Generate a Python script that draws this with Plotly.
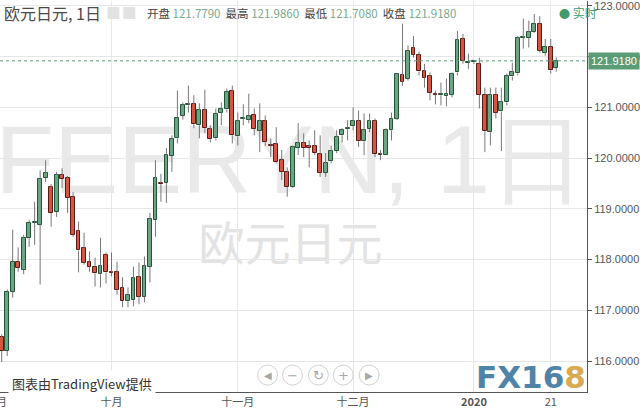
import plotly.graph_objects as go
import pandas as pd

# ---------------- data (EUR/JPY daily) ----------------
dates = [d.strftime("%Y-%m-%d") for d in pd.bdate_range("2019-09-03", "2020-01-22")]

opens = [116.47, 116.20, 117.37, 117.96, 117.80, 118.43, 118.73, 118.69, 119.61, 119.43,
         118.94, 119.67, 119.61, 119.24, 118.57, 118.22, 117.96, 117.86, 117.71, 118.10,
         117.75, 117.75, 117.45, 117.18, 117.20, 117.65, 117.27, 117.86, 118.78, 119.51,
         119.51, 120.04, 120.39, 120.84, 121.04, 121.06, 120.65, 120.94, 120.57, 120.39,
         120.90, 120.96, 121.33, 120.43, 120.78, 120.76, 120.86, 120.53, 120.73, 120.25,
         120.27, 119.96, 119.73, 119.43, 120.20, 120.29, 120.22, 120.24, 120.08, 119.71,
         119.94, 120.14, 120.45, 120.57, 120.63, 120.73, 120.33, 120.57, 120.73, 120.08,
         120.06, 120.55, 120.78, 121.63, 121.57, 122.18, 122.04, 121.71, 121.61, 121.27,
         121.24, 121.22, 121.25, 121.69, 122.35, 121.88, 121.90, 121.86, 121.25, 120.51,
         121.25, 120.92, 121.10, 121.61, 121.67, 122.37, 122.37, 122.49, 122.65, 122.08,
         122.20, 121.779]
highs = [116.53, 117.41, 118.59, 118.24, 118.49, 118.78, 119.14, 119.76, 119.96, 119.49,
         119.73, 119.80, 119.65, 119.33, 118.75, 118.53, 118.16, 118.04, 118.43, 118.14,
         118.14, 117.96, 117.65, 117.45, 117.86, 117.94, 118.06, 118.92, 119.96, 119.69,
         120.20, 120.45, 121.33, 121.10, 121.43, 121.24, 121.08, 121.35, 120.65, 120.98,
         121.10, 121.37, 121.43, 120.90, 121.06, 121.27, 120.98, 121.08, 120.84, 120.39,
         120.61, 120.16, 119.82, 120.25, 120.69, 120.49, 120.35, 120.55, 120.45, 120.10,
         120.25, 120.55, 120.59, 120.75, 121.00, 120.94, 120.88, 120.88, 120.78, 120.16,
         120.59, 120.90, 121.67, 122.65, 122.22, 122.41, 122.10, 121.86, 121.69, 121.33,
         121.49, 121.57, 121.69, 122.51, 122.45, 122.06, 121.94, 121.98, 121.39, 121.39,
         121.39, 121.39, 121.67, 121.88, 122.41, 122.75, 122.71, 122.84, 122.80, 122.35,
         122.35, 121.986]
lows = [115.98, 116.10, 117.25, 117.76, 117.71, 118.25, 118.29, 117.51, 119.53, 118.65,
        118.84, 119.41, 118.92, 118.45, 117.75, 117.90, 117.76, 117.47, 117.45, 117.53,
        117.67, 117.31, 117.06, 117.06, 117.08, 117.12, 117.16, 117.55, 118.45, 119.14,
        119.12, 119.73, 120.29, 120.76, 120.90, 120.59, 120.39, 120.49, 120.31, 120.35,
        120.65, 120.90, 120.29, 120.25, 120.65, 120.69, 120.45, 120.12, 120.24, 120.02,
        119.90, 119.57, 119.24, 119.41, 120.06, 120.02, 119.82, 120.06, 119.63, 119.63,
        119.90, 120.10, 120.31, 120.35, 120.55, 120.22, 120.06, 120.51, 120.02, 119.96,
        120.06, 120.35, 120.75, 121.43, 121.53, 121.98, 121.63, 121.39, 121.14, 121.06,
        121.04, 121.02, 121.20, 121.63, 121.86, 121.76, 121.86, 120.98, 120.12, 120.25,
        120.78, 120.14, 121.04, 121.53, 121.63, 122.16, 122.18, 122.47, 122.08, 122.02,
        121.67, 121.708]
closes = [116.20, 117.37, 117.96, 117.84, 118.43, 118.73, 118.75, 119.59, 119.71, 118.92,
          119.67, 119.59, 119.22, 118.49, 118.18, 117.94, 117.86, 117.73, 117.88, 117.75,
          117.74, 117.41, 117.18, 117.31, 117.63, 117.27, 117.88, 118.80, 119.61, 119.49,
          120.06, 120.37, 120.80, 121.04, 121.06, 120.67, 120.94, 120.59, 120.37, 120.88,
          120.96, 121.31, 120.45, 120.73, 120.79, 120.84, 120.57, 120.73, 120.31, 120.24,
          119.92, 119.73, 119.43, 120.22, 120.29, 120.20, 120.21, 120.10, 119.71, 119.90,
          120.14, 120.41, 120.55, 120.59, 120.73, 120.33, 120.55, 120.73, 120.08, 120.06,
          120.55, 120.78, 121.65, 121.51, 122.12, 122.04, 121.71, 121.59, 121.29, 121.25,
          121.27, 121.27, 121.65, 122.33, 121.92, 121.90, 121.91, 121.25, 120.53, 121.25,
          120.90, 121.10, 121.61, 121.69, 122.37, 122.38, 122.49, 122.65, 122.12, 122.20,
          121.73, 121.918]

tick_dates = ["2019-10-01", "2019-11-01", "2019-12-02", "2020-01-01", "2020-01-21"]
tick_labels = ["十月", "十一月", "十二月", "<b>2020</b>", "21"]
price_ticks = [116, 117, 118, 119, 120, 121, 122, 123]

title_text = "欧元日元, 1日"
ohlc_labels = ["开盘", "最高", "最低", "收盘"]
ohlc_values = ["121.7790", "121.9860", "121.7080", "121.9180"]
last_price = 121.918
watermark = "FEERYN, 1日"
watermark_sub = "欧元日元"

# ---------------- styling ----------------
UP_FILL, UP_LINE = "#6ba583", "#225437"
DN_FILL, DN_LINE = "#d75442", "#5b1a13"
WICK = "#777779"
GREEN_TAG = "#5b9c77"
GRID = "#e6e6e6"
AXIS = "#555555"

W, H = 640, 410
ML, MR, MT, MB = 0, 50, 0, 18
PW, PH = W - ML - MR, H - MT - MB
x_range = [-0.31, 106.6]
y_range = [115.39, 123.098]

idx = list(range(len(dates)))
pos = {d: i for i, d in enumerate(dates)}

bases, heights, fills, lines = [], [], [], []
wx, wy = [], []
for i, (o, h, l, c) in enumerate(zip(opens, highs, lows, closes)):
    top, bot = max(o, c), min(o, c)
    bases.append(bot)
    heights.append(max(top - bot, 0.02))
    up = c >= o
    fills.append(UP_FILL if up else DN_FILL)
    lines.append(UP_LINE if up else DN_LINE)
    wx += [i, i, None, i, i, None]
    wy += [h, top, None, bot, l, None]

fig = go.Figure()
fig.add_trace(go.Bar(x=idx, y=heights, base=bases, width=0.7,
                     marker=dict(color=fills, line=dict(color=lines, width=1)),
                     hoverinfo="skip", showlegend=False))
fig.add_trace(go.Scatter(x=wx, y=wy, mode="lines", line=dict(color=WICK, width=1),
                         hoverinfo="skip", showlegend=False))


def px_x(p):
    return (p - ML) / PW


def px_y(p):
    return 1 - (p - MT) / PH


shapes = []
annotations = []

# watermarks (below grid)
shapes.append(dict(type="rect", xref="paper", yref="paper", x0=0, x1=0.99,
                   y0=px_y(205), y1=px_y(95), line=dict(width=0), fillcolor="rgba(0,0,0,0)",
                   layer="below",
                   label=dict(text=watermark, textposition="middle center",
                              font=dict(size=96, color="#e9e9e9", family="Liberation Sans"))))
shapes.append(dict(type="rect", xref="paper", yref="paper", x0=0, x1=0.99,
                   y0=px_y(277), y1=px_y(217), line=dict(width=0), fillcolor="rgba(0,0,0,0)",
                   layer="below",
                   label=dict(text=watermark_sub, textposition="middle center",
                              font=dict(size=46, color="#e3e3e3", family="Noto Sans CJK SC"))))

# last price dotted line
shapes.append(dict(type="line", xref="paper", x0=0, x1=1, yref="y", y0=last_price, y1=last_price,
                   line=dict(color=GREEN_TAG, width=1, dash="dot")))

# header icons
for x0 in (108, 124):
    shapes.append(dict(type="rect", xref="paper", yref="paper",
                       x0=px_x(x0), x1=px_x(x0 + 12), y0=px_y(18), y1=px_y(6),
                       line=dict(width=0), fillcolor="#e2e2e2"))

# zoom buttons
btn_syms = ["◀", "−", "↻", "+", "▶"]
btn_cx = [269, 294, 320, 345, 371]
for cx, s in zip(btn_cx, btn_syms):
    shapes.append(dict(type="circle", xref="paper", yref="paper",
                       x0=px_x(cx - 10), x1=px_x(cx + 10), y0=px_y(385), y1=px_y(365),
                       line=dict(color="#d2d2d2", width=1), fillcolor="rgba(255,255,255,0.85)"))
    annotations.append(dict(xref="paper", yref="paper", x=px_x(cx), y=px_y(375),
                            text=s, showarrow=False, xanchor="center", yanchor="middle",
                            font=dict(size=10 if s in ("◀", "▶") else 13, color="#a8a8a8",
                                      family="DejaVu Sans")))

# header title
annotations.append(dict(xref="paper", yref="paper", x=px_x(2), y=px_y(12), text=title_text,
                        showarrow=False, xanchor="left", yanchor="middle",
                        font=dict(size=16, color="#4a4a4a", family="Noto Sans CJK SC")))
ohlc_txt = "  ".join(f"{lab} <span style='color:#79a98d'>{val}</span>"
                     for lab, val in zip(ohlc_labels, ohlc_values))
annotations.append(dict(xref="paper", yref="paper", x=px_x(146), y=px_y(12), text=ohlc_txt,
                        showarrow=False, xanchor="left", yanchor="middle",
                        font=dict(size=11.5, color="#444444", family="Noto Sans CJK SC")))
annotations.append(dict(xref="paper", yref="paper", x=px_x(560), y=px_y(12),
                        text="<span style='font-size:11px'>●</span> 实时",
                        showarrow=False, xanchor="left", yanchor="middle",
                        font=dict(size=12, color="#3f9a6c", family="Noto Sans CJK SC")))

# price tag
annotations.append(dict(xref="paper", yref="y", x=1, y=last_price, text=f"{last_price:.4f}",
                        showarrow=False, xanchor="left", yanchor="middle", bgcolor=GREEN_TAG,
                        borderpad=2, xshift=1,
                        font=dict(size=11, color="white", family="Liberation Sans")))

# attribution
annotations.append(dict(xref="paper", yref="paper", x=px_x(8), y=px_y(383),
                        text="图表由TradingView提供", showarrow=False, xanchor="left",
                        yanchor="middle", bgcolor="white", borderpad=3,
                        font=dict(size=13, color="#333333", family="Noto Sans CJK SC")))

# FX168 logo
annotations.append(dict(xref="paper", yref="paper", x=1, y=px_y(377),
                        text="<b><span style='color:#4f84a8'>FX16</span>"
                             "<span style='color:#d8ab52'>8</span></b>",
                        showarrow=False, xanchor="right", yanchor="middle", borderpad=0,
                        font=dict(size=31, family="DejaVu Sans")))

# clipped "九月" label at left edge
x_span = x_range[1] - x_range[0]
annotations.append(dict(xref="paper", yref="paper", x=(-1 - x_range[0]) / x_span, y=0,
                        yshift=-9, text="九月", showarrow=False, xanchor="center",
                        yanchor="middle", font=dict(size=11, color=AXIS,
                                                   family="Noto Sans CJK SC")))

fig.update_layout(
    width=W, height=H,
    margin=dict(l=ML, r=MR, t=MT, b=MB),
    paper_bgcolor="white", plot_bgcolor="white",
    showlegend=False, bargap=0,
    shapes=shapes, annotations=annotations,
    font=dict(family="Liberation Sans, Noto Sans CJK SC", color=AXIS),
    xaxis=dict(type="linear", range=x_range,
               tickvals=[pos[d] for d in tick_dates], ticktext=tick_labels,
               showgrid=True, gridcolor=GRID, gridwidth=1, zeroline=False,
               showline=True, linecolor=AXIS, linewidth=1, ticks="",
               tickfont=dict(size=11, color=AXIS, family="Noto Sans CJK SC, Liberation Sans")),
    yaxis=dict(side="right", range=y_range, tickvals=price_ticks, tickformat=".4f",
               showgrid=True, gridcolor=GRID, gridwidth=1, zeroline=False,
               showline=True, linecolor=AXIS, linewidth=1,
               ticks="outside", ticklen=4, tickcolor=AXIS, ticklabeloverflow="allow",
               tickfont=dict(size=11, color=AXIS, family="Liberation Sans")),
)

fig.write_html("out.html", config={"displayModeBar": False},
               post_script="document.body.style.margin='0';document.body.style.padding='0';")
